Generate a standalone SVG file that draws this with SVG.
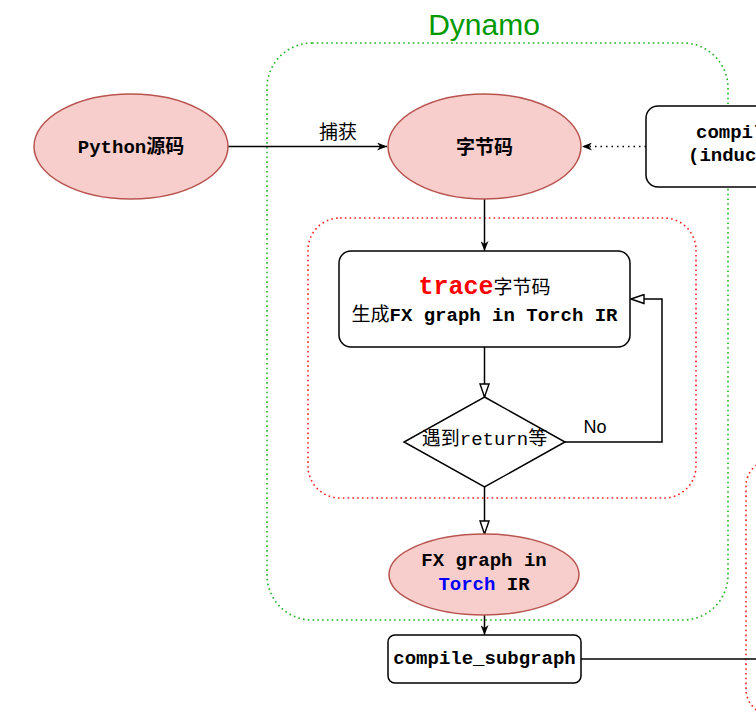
<svg xmlns="http://www.w3.org/2000/svg" width="756" height="717" viewBox="0 0 756 717">
<style>
.ell{fill:#f8cecc;stroke:#b85450;stroke-width:1.5}
.box{fill:#fff;stroke:#000;stroke-width:1.5}
.ln{fill:none;stroke:#000;stroke-width:1.5}
.grn{fill:none;stroke:#22b422;stroke-width:1.6;stroke-dasharray:1.6 3.2}
.red{fill:none;stroke:#ff2020;stroke-width:1.6;stroke-dasharray:1.6 3.2}
.mono{font-family:"Liberation Mono","Courier New",monospace;font-size:19px;font-weight:bold}
.cjk{font-family:"Noto Sans CJK SC","Noto Sans CJK JP",sans-serif;font-size:19px}
text{fill:#000}
</style>
<defs>
<marker id="classic" viewBox="0 0 10 8" refX="10" refY="4" markerWidth="10" markerHeight="8" markerUnits="userSpaceOnUse" orient="auto"><path d="M0,0 L10,4 L0,8 L3,4 z" fill="#000"/></marker>
<marker id="block" viewBox="0 0 15 11" refX="14" refY="5.5" markerWidth="15" markerHeight="11" markerUnits="userSpaceOnUse" orient="auto"><path d="M1,1 L14,5.5 L1,10 z" fill="#fff" stroke="#000" stroke-width="1.4"/></marker>
</defs>
<rect width="756" height="717" fill="#fff"/>

<g id="containers">
<rect class="grn" x="267" y="43" width="461" height="577" rx="45" ry="45"/>
<text x="484" y="35" text-anchor="middle" font-family="Liberation Sans,Arial,sans-serif" font-size="30" style="fill:#009900">Dynamo</text>
<rect class="red" x="308" y="218" width="388" height="280" rx="32" ry="32"/>
<rect class="red" x="746" y="460" width="120" height="255" rx="26" ry="26"/>
</g>

<g id="connectors">
<line class="ln" x1="228" y1="146.5" x2="387" y2="146.5" marker-end="url(#classic)"/>
<text class="cjk" x="338" y="139" text-anchor="middle">捕获</text>
<line x1="646" y1="146.5" x2="582" y2="146.5" stroke="#000" stroke-width="1.5" stroke-dasharray="1.5 4" marker-end="url(#classic)"/>
<line class="ln" x1="484.5" y1="199" x2="484.5" y2="251" marker-end="url(#classic)"/>
<line class="ln" x1="484.5" y1="347" x2="484.5" y2="397" marker-end="url(#block)"/>
<polyline class="ln" points="565,442 662,442 662,299 631,299" marker-end="url(#block)"/>
<text x="595" y="433" text-anchor="middle" font-family="Liberation Sans,Arial,sans-serif" font-size="18">No</text>
<line class="ln" x1="484.5" y1="487" x2="484.5" y2="534" marker-end="url(#block)"/>
<line class="ln" x1="484.5" y1="615" x2="484.5" y2="635" marker-end="url(#classic)"/>
<line class="ln" x1="581" y1="659" x2="756" y2="659"/>
</g>

<g id="python-src">
<ellipse class="ell" cx="131" cy="146.5" rx="97" ry="52.5"/>
<text x="131" y="153" text-anchor="middle"><tspan class="mono">Python</tspan><tspan class="cjk" font-weight="bold">源码</tspan></text>
</g>

<g id="bytecode">
<ellipse class="ell" cx="484.5" cy="146.5" rx="96.5" ry="52.5"/>
<text class="cjk" x="484.5" y="154" text-anchor="middle" font-weight="bold">字节码</text>
</g>

<g id="compile-fx">
<rect class="box" x="646" y="106" width="140" height="81" rx="12" ry="12"/>
<text class="mono" x="696" y="138">compile_fx</text>
<text class="mono" x="688" y="161">(inductor)</text>
</g>

<g id="trace">
<rect class="box" x="339" y="251" width="291" height="96" rx="12" ry="12"/>
<text x="484.5" y="294" text-anchor="middle"><tspan class="mono" style="fill:#ff0000;font-size:25px">trace</tspan><tspan class="cjk">字节码</tspan></text>
<text x="484.5" y="321" text-anchor="middle"><tspan class="cjk">生成</tspan><tspan class="mono">FX graph in Torch IR</tspan></text>
</g>

<g id="return-check">
<polygon class="box" points="484.5,397 565,442 484.5,487 404,442"/>
<text x="484.5" y="445" text-anchor="middle"><tspan class="cjk">遇到</tspan><tspan class="mono" style="font-weight:normal">return</tspan><tspan class="cjk">等</tspan></text>
</g>

<g id="fx-graph">
<ellipse class="ell" cx="484" cy="574.5" rx="95" ry="40.5"/>
<text class="mono" x="484" y="566" text-anchor="middle">FX graph in</text>
<text class="mono" x="484" y="590" text-anchor="middle"><tspan style="fill:#0000ff">Torch</tspan> IR</text>
</g>

<g id="compile-subgraph">
<rect class="box" x="388" y="635" width="193" height="48" rx="7" ry="7"/>
<text class="mono" x="484.5" y="664" text-anchor="middle">compile_subgraph</text>
</g>
</svg>
